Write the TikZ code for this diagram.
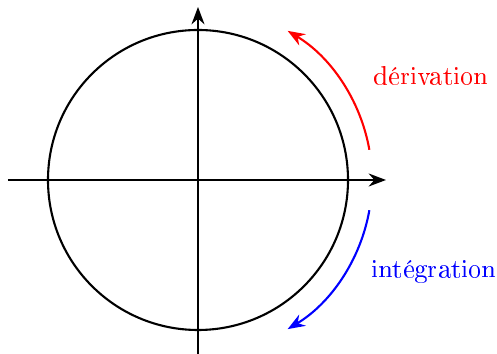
\documentclass[tikz,border=0pt]{standalone}
\usepackage[T1]{fontenc}
\usetikzlibrary{arrows.meta}

\begin{document}
\begin{tikzpicture}[x=0.67cm,y=0.67cm,thick]
  \useasboundingbox (-3.96,-3.48) rectangle (5.98,3.6);
  \coordinate (O) at (0,0);
  % axes et cercle
  \draw[-Stealth] (-3.8,0)--(3.76,0);
  \draw[-Stealth] (0,-3.48)--(0,3.46);
  \draw (O) circle (3);
  % sens de rotation
  \draw[red,-Stealth] (10:3.48) arc (10:59:3.48);
  \draw[blue,-Stealth] (-10:3.48) arc (-10:-59:3.48);
  \node[red] (deriv) at (4.66,2.1) {dérivation};
  \node[blue] (integ) at (4.72,-1.82) {intégration};
\end{tikzpicture}
\end{document}
